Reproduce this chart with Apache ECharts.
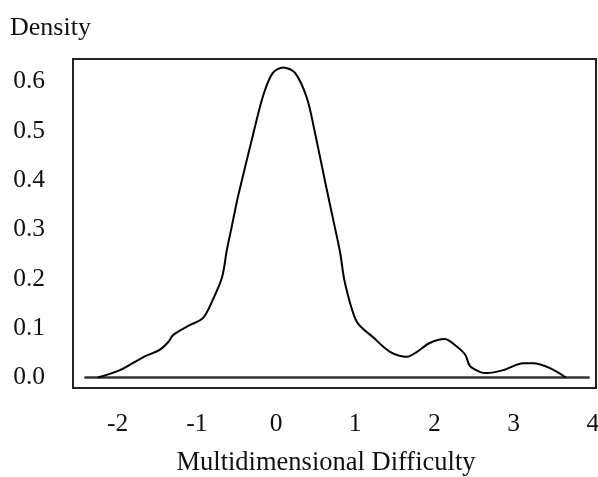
<!DOCTYPE html>
<html>
<head>
<meta charset="utf-8">
<script src="https://cdn.jsdelivr.net/npm/echarts@6/dist/echarts.min.js"></script>
<style>
  html, body { margin: 0; padding: 0; background: #fff; }
  #chart { width: 598px; height: 477px; }
</style>
</head>
<body>
<div id="chart"></div>
<script>
// density curve
const difficulty = [-2.25, -1.97, -1.68, -1.47, -1.36, -1.30, -1.09, -0.92, -0.80, -0.68, -0.62, -0.56, -0.49, -0.455, -0.30, -0.16, -0.04, 0.09, 0.24, 0.39, 0.49, 0.62, 0.745, 0.81, 0.87, 1.02, 1.23, 1.44, 1.65, 1.78, 1.94, 2.13, 2.29, 2.39, 2.45, 2.58, 2.66, 2.87, 3.12, 3.25, 3.46, 3.66]
const density = [0.0, 0.015, 0.041, 0.056, 0.072, 0.086, 0.106, 0.121, 0.157, 0.204, 0.259, 0.305, 0.360, 0.384, 0.486, 0.573, 0.618, 0.629, 0.618, 0.567, 0.498, 0.397, 0.303, 0.253, 0.192, 0.113, 0.081, 0.052, 0.042, 0.052, 0.070, 0.078, 0.062, 0.046, 0.023, 0.011, 0.009, 0.015, 0.029, 0.029, 0.019, 0.0]

// zero line drawn under the curve
const baselineX = [-2.42, 3.96]

const xTicks = [-2, -1, 0, 1, 2, 3, 4]
const yTicks = [0, 0.1, 0.2, 0.3, 0.4, 0.5, 0.6]

const FONT = '"Liberation Serif", "Times New Roman", serif'

const buildOption = () => {
  const curve = difficulty.map((x, i) => [x, density[i]])
  const baseline = baselineX.map(x => [x, 0])

  return {
    animation: false,
    title: {
      text: 'Density',
      left: 5,
      top: 10,
      textStyle: {fontFamily: FONT, fontSize: 26, fontWeight: 'normal', color: '#111'}
    },
    grid: {
      left: 73,
      right: 2,
      top: 59,
      bottom: 89,
      outerBoundsMode: 'none',
      show: true,
      borderColor: '#222',
      borderWidth: 2
    },
    xAxis: {
      type: 'value',
      min: -2.563,
      max: 4.04,
      name: 'Multidimensional Difficulty',
      nameLocation: 'middle',
      nameGap: 62,
      nameTextStyle: {fontFamily: FONT, fontSize: 26.5, color: '#111', padding: [0, 17, 0, 0]},
      axisLine: {show: false},
      axisTick: {show: false},
      splitLine: {show: false},
      axisLabel: {
        customValues: xTicks,
        margin: 23,
        fontFamily: FONT,
        fontSize: 25.5,
        color: '#111'
      }
    },
    yAxis: {
      type: 'value',
      min: -0.0213,
      max: 0.646,
      axisLine: {show: false},
      axisTick: {show: false},
      splitLine: {show: false},
      axisLabel: {
        customValues: yTicks,
        margin: 28,
        fontFamily: FONT,
        fontSize: 25.5,
        color: '#111',
        formatter: v => v.toFixed(1)
      }
    },
    series: [
      {
        type: 'line',
        data: baseline,
        symbol: 'none',
        silent: true,
        lineStyle: {color: '#333', width: 2.5}
      },
      {
        type: 'line',
        data: curve,
        symbol: 'none',
        smooth: 0.3,
        lineStyle: {color: '#000', width: 2}
      }
    ]
  }
}

const chartInstance = echarts.init(document.getElementById('chart'))
chartInstance.setOption(buildOption())
</script>
</body>
</html>
